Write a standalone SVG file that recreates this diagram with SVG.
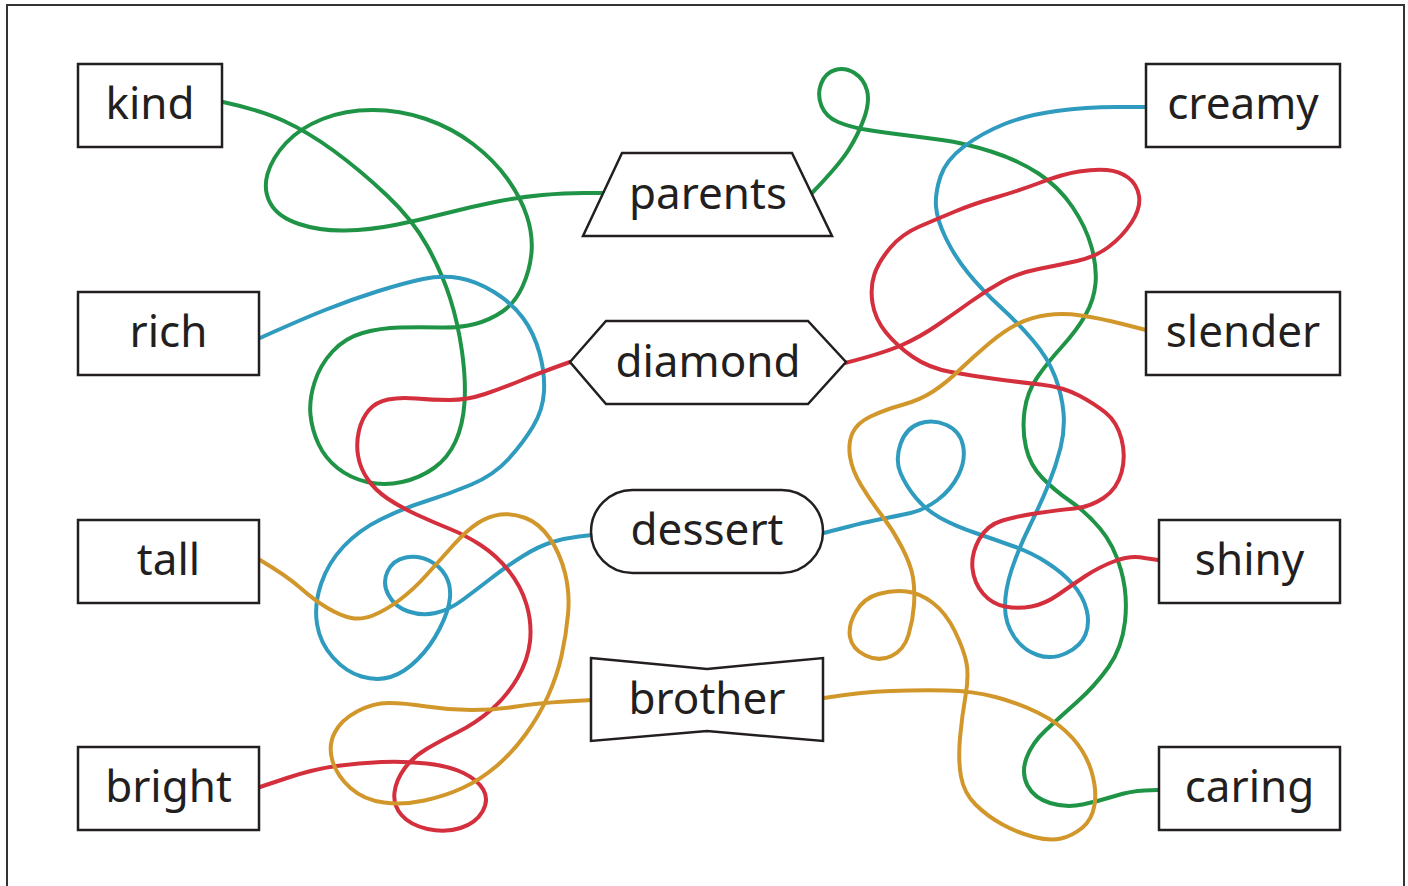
<svg xmlns="http://www.w3.org/2000/svg" width="1408" height="886" viewBox="0 0 1408 886">
<style>
.frame{fill:none;stroke:#333;stroke-width:2}
.node{fill:#fff;stroke:#231f20;stroke-width:2.5;stroke-linejoin:miter}
.lbl{font-family:"Noto Sans","DejaVu Sans",sans-serif;font-size:44px;fill:#231f20;text-anchor:middle}
.c{fill:none;stroke-width:4;stroke-linecap:round;stroke-linejoin:round}
.g{stroke:#1f9446}.b{stroke:#2f9bbf}.r{stroke:#d42f3d}.o{stroke:#d2972b}
</style>
<rect x="0" y="0" width="1408" height="886" fill="#fff"/>
<rect class="frame" x="7" y="5" width="1397" height="900"/>
<g id="connectors">
<path class="c g" d="M223,102 Q260,110 284,121 T334,151 T386.5,195 T427.5,246.5 T450,298 T462,351.5 T464.5,402.5 T455.5,441.5 T434,468 T402,482 T367,482 T337.5,468 T318.5,444 T310.5,415 T314.5,382.5 T332.5,351.5 T362.5,333 T400,327.5 T440,327.5 T475,324 T502.5,311.5 T522.5,286.5 T531.5,252.5 T527,216.5 T507.5,179 T473,144 T426,119 T372.5,110 T322.5,119 T286,143 T267.5,174 T270.5,203.5 T299,224 T345,230.5 T395,225 T445,213.5 T495,202 T542.5,195 T584,193 L603,193"/>
<path class="c g" d="M812,193 Q839,165 848.5,150 T864,118.5 T867,90.5 T854.5,73 T835,70 T821,84 T821.5,106 T838,122 T865,129.5 T900,134.5 T942,140 T991,151.5 T1038.5,173.5 T1072.5,207 T1091.5,247 T1095.5,283.5 T1085.5,315 T1062.5,346 T1037.5,377 T1024.5,411 T1026,447.5 T1042,477.5 T1070,501 T1100,528.5 T1121,570 T1125,621.5 T1108.5,667 T1077,702 T1045.5,730.5 T1026.5,758 T1027.5,785.5 T1050,803 T1082.5,804.5 T1115,796 T1144.5,790.5 L1158,790"/>
<path class="c b" d="M260,338 Q300,320 325,310 T377,291.5 T423,279 T459,278 T494,292 T523,318 T539.5,353 T544,391.5 T533,426.5 T508.5,459 T471.5,484.5 T426.5,501 T381.5,519 T343.5,546.5 T321,584 T317,624 T333,657.5 T361.5,676.5 T390.5,677 T417.5,659.5 T440,628 T450,597.5 T445.5,575.5 T429,560.5 T405.5,557.5 T387.5,571.5 T388.5,595 T408.5,611.5 T435.5,613 T462.5,600 T491.5,578 T523,556 T552.5,542 T579,536.5 L592,535"/>
<path class="c b" d="M824,533 Q861,523 879,519.5 T910.5,513 T937.5,500 T958.5,475 T963,445.5 T946.5,425 T919.5,423.5 T900.5,444 T900.5,473 T916,498 T940.5,518 T975.5,533 T1014,546.5 T1047.5,563 T1073,584.5 T1086.5,609.5 T1085.5,634.5 T1066.5,653 T1037.5,655 T1014,636.5 T1005,606.5 T1011.5,570 T1029.5,526.5 T1048.5,484.5 T1060.5,448 T1063.5,412.5 T1055,376.5 T1033,340.5 T1000,306.5 T968.5,273.5 T946,238.5 T936,206.5 T940.5,176.5 T964,146.5 T1004.5,124 T1056.5,111 T1116,107 L1146,107"/>
<path class="c r" d="M570,362 Q539,373 521,380.5 T485,394 T449.5,400 T416,398.5 T388,399.5 T369,410 T359,430.5 T358,455.5 T367.5,479 T387.5,498.5 T417.5,515 T450,529 T480.5,545 T508.5,570.5 T526.5,604.5 T530,641.5 T517.5,678 T491.5,709.5 T458,732 T426.5,749 T404.5,768.5 T394.5,792.5 T401.5,815 T427.5,829 T460.5,828 T482.5,811.5 T483.5,790 T463.5,773 T426.5,763.5 T381.5,762 T336.5,766 T287,778 L260,787"/>
<path class="c r" d="M845,363 Q884,353 902,345 T937.5,325 T971,301.5 T1002.5,281.5 T1038.5,269 T1077,261 T1108.5,247 T1131.5,222.5 T1139,196 T1128,177.5 T1107,170 T1079,171.5 T1040.5,182.5 T995.5,197.5 T955,211.5 T919.5,226.5 T890.5,247.5 T874.5,274 T872.5,303 T886,332.5 T913,357 T951,372 T995.5,379 T1040.5,384.5 T1079,395.5 T1106,413 T1121.5,439 T1121.5,472.5 T1103.5,498 T1074.5,508.5 T1038.5,513 T1002.5,520.5 T979,539.5 T972.5,568.5 T983,593.5 T1005,606.5 T1031.5,606.5 T1058.5,594.5 T1085.5,576 T1115,561 T1144.5,558 L1158,560"/>
<path class="c o" d="M260,560 Q287,576 300.5,588 T327.5,608 T351.5,618 T374,615 T399.5,600 T426.5,575 T453.5,545 T478,523 T500.5,514.5 T525.5,518 T549.5,538 T565,573 T568,614.5 T561.5,656 T548,696 T525.5,734.5 T496,766.5 T462.5,788 T424.5,800.5 T384,802.5 T350.5,788 T332.5,761 T334.5,733 T357,711.5 T388.5,703 T426.5,706.5 T471.5,710 T516.5,706.5 T565.5,701.5 L592,700"/>
<path class="c o" d="M824,698 Q861,692 890.5,691 T946.5,690.5 T995.5,697 T1038.5,713 T1072.5,738 T1091.5,771.5 T1094.5,805 T1082,828 T1061,838.5 T1034,837 T1002.5,824.5 T975.5,804.5 T961,776.5 T960,738 T965.5,696 T966.5,663 T955,631.5 T933,603 T906.5,591.5 T878.5,594 T856,611.5 T850,637 T865.5,655.5 T891.5,656 T908.5,635 T914,605 T913,577.5 T902,547.5 T881.5,515 T861,485 T850,456.5 T852.5,433 T870.5,416.5 T902,405 T933,391.5 T959.5,370 T989,343.5 T1018.5,323.5 T1047.5,315 T1081,315.5 T1122.5,324 L1146,330"/>
</g>
<g id="node-kind"><rect class="node" x="78" y="64" width="144" height="83"/><text class="lbl" x="150" y="119">kind</text></g>
<g id="node-rich"><rect class="node" x="78" y="292" width="181" height="83"/><text class="lbl" x="168.5" y="347">rich</text></g>
<g id="node-tall"><rect class="node" x="78" y="520" width="181" height="83"/><text class="lbl" x="168.5" y="575">tall</text></g>
<g id="node-bright"><rect class="node" x="78" y="747" width="181" height="83"/><text class="lbl" x="168.5" y="802">bright</text></g>
<g id="node-creamy"><rect class="node" x="1146" y="64" width="194" height="83"/><text class="lbl" x="1243" y="119">creamy</text></g>
<g id="node-slender"><rect class="node" x="1146" y="292" width="194" height="83"/><text class="lbl" x="1243" y="347">slender</text></g>
<g id="node-shiny"><rect class="node" x="1159" y="520" width="181" height="83"/><text class="lbl" x="1249.5" y="575">shiny</text></g>
<g id="node-caring"><rect class="node" x="1159" y="747" width="181" height="83"/><text class="lbl" x="1249.5" y="802">caring</text></g>
<g id="node-parents"><polygon class="node" points="622,153 792,153 832,236 583,236"/><text class="lbl" x="708" y="209">parents</text></g>
<g id="node-diamond"><polygon class="node" points="570,362 606,321 808,321 846,362 808,404 606,404"/><text class="lbl" x="708" y="377">diamond</text></g>
<g id="node-dessert"><rect class="node" x="591" y="490" width="232" height="83" rx="41.5" ry="41.5"/><text class="lbl" x="707" y="545">dessert</text></g>
<g id="node-brother"><polygon class="node" points="591,658 707,669 823,658 823,741 707,731 591,741"/><text class="lbl" x="707" y="714">brother</text></g>
</svg>
